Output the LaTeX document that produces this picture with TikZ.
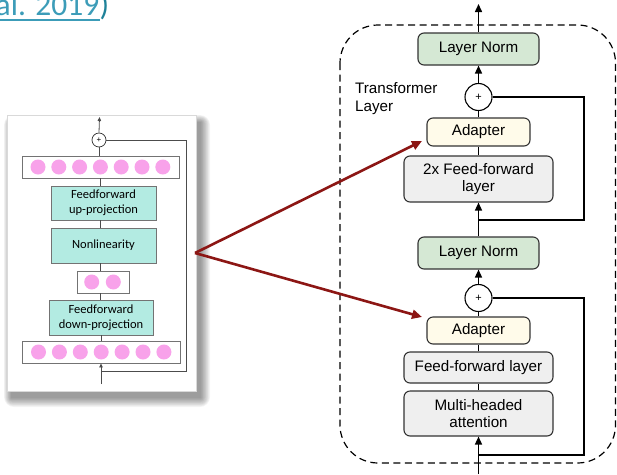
\documentclass[tikz,border=0pt]{standalone}
\usepackage{fontspec}
\setmainfont{Liberation Sans}
\newfontfamily\calib{Carlito}
\usetikzlibrary{arrows.meta}
\definecolor{lnfill}{HTML}{D5E8D4}
\definecolor{adfill}{HTML}{FFFBEA}
\definecolor{ffill}{HTML}{EFEFEF}
\definecolor{tealbox}{HTML}{B3EBE2}
\definecolor{dotpink}{HTML}{F8A2EA}
\definecolor{linkteal}{HTML}{3C9CB8}
\definecolor{linkdark}{HTML}{1F8299}
\definecolor{darkred}{HTML}{8C1614}
\tikzset{
  tbox/.style={draw=black!80, line width=1.1pt, rounded corners=6pt, align=center,
    font=\fontsize{15.2}{17.5}\selectfont, inner sep=0pt},
  lnbox/.style={tbox, fill=lnfill, minimum width=121pt, minimum height=32pt},
  adbox/.style={tbox, fill=adfill, minimum width=103pt, minimum height=28pt},
  ffbox/.style={tbox, fill=ffill, minimum width=149pt},
  tplus/.style={circle, draw=black, line width=1.1pt, fill=white, minimum size=27pt,
    inner sep=0pt, font=\fontsize{11}{11}\selectfont},
  tline/.style={line width=1.5pt, black},
  tarrow/.style={tline, -{Triangle[width=7pt,length=8pt]}},
  abox/.style={draw=black!55, line width=0.8pt, fill=tealbox, align=center,
    font=\calib\fontsize{12.5}{15}\selectfont, inner sep=0pt},
  dotrow/.style={draw=black!55, line width=0.8pt, fill=white, inner sep=0pt, minimum height=22pt},
  dot/.style={circle, fill=dotpink, minimum size=15pt, inner sep=0pt},
  aline/.style={line width=0.8pt, black!70},
  redarrow/.style={line width=2.6pt, darkred, -{Triangle[width=9pt,length=10pt]}},
}
\begin{document}
\begin{tikzpicture}[x=1pt,y=-1pt]
\useasboundingbox (0,0) rectangle (617,474);

% citation fragment at the top edge
\begin{scope}
\clip (0,0) rectangle (617,474);
\node[anchor=base west, inner sep=0pt, text=linkteal, font=\calib\fontsize{31.5}{36}\selectfont]
  (cite) at (-4.5,15) {al. 2019};
\node[anchor=base west, inner sep=0pt, text=linkdark, font=\calib\fontsize{31.5}{36}\selectfont]
  (paren) at (cite.base east) {)};
\draw[linkteal, line width=1.4pt] (cite.base west |- 0,20) -- (cite.base east |- 0,20);
\end{scope}

% ---------- adapter module (left) ----------
% soft shadow behind the panel
\foreach \i in {0,...,10}{
  \fill[black, opacity=0.045, rounded corners=\i pt]
    (11-\i*0.7,122-\i*0.7) rectangle (201+\i*0.9,398+\i*0.9);
}
\node[draw=black!15, line width=0.5pt, fill=white, inner sep=0pt, minimum width=189pt,
  minimum height=276pt] (panel) at (101.5,253) {};

\coordinate (spine) at (100.5,0);
\node[tplus, minimum size=14pt, line width=0.7pt, font=\fontsize{8}{8}\selectfont,
  draw=black!80] (aplus) at (99,140) {+};
\node[dotrow, minimum width=157pt] (toprow) at (100.5,167) {};
\foreach \k in {0,...,6}{
  \node[dot] (t\k) at (38+\k*20.8,167) {};
}
\node[abox, minimum width=105pt, minimum height=34pt] (up) at (103.5,203)
  {Feedforward\\up-projection};
\node[abox, minimum width=105pt, minimum height=35pt] (nonlin) at (103.5,245.5)
  {Nonlinearity};
\node[dotrow, minimum width=52pt] (midrow) at (103,282) {};
\node[dot] (m0) at (91.7,282) {};
\node[dot] (m1) at (113.3,282) {};
\node[abox, minimum width=104pt, minimum height=35pt] (down) at (101,317.5)
  {Feedforward\\down-projection};
\node[dotrow, minimum width=158pt] (botrow) at (101,352) {};
\foreach \k in {0,...,6}{
  \node[dot] (b\k) at (38.5+\k*20.9,352) {};
}
\coordinate (ain) at (101,384);
\coordinate (aout) at (99.5,117);
\coordinate (askip) at (101,371);

\draw[aline, -{Triangle[width=3.5pt,length=4pt]}] (aplus.north) -- (aout);
\draw[aline] (aplus.south) -- (toprow.north -| aplus.south);
\draw[aline] (toprow.south -| spine) -- (up.north -| spine);
\draw[aline] (up.south -| spine) -- (nonlin.north -| spine);
\draw[aline] (nonlin.south -| spine) -- (midrow.north -| spine);
\draw[aline] (midrow.south -| spine) -- (down.north -| spine);
\draw[aline] (down.south -| ain) -- (botrow.north -| ain);
\draw[aline, -{Triangle[width=3.5pt,length=4pt]}] (ain) -- (botrow.south -| ain);
\draw[aline] (aplus.east) -- (186.5,140) -- (186.5,371) -- (askip);

% ---------- transformer layer (right) ----------
\draw[line width=1.2pt, dash pattern=on 7pt off 4.5pt, rounded corners=38pt]
  (340,25) rectangle (615.5,463);
\node[anchor=base west, align=left, inner sep=0pt, font=\fontsize{15.2}{18}\selectfont]
  (tlabel) at (355,111) {Transformer\\Layer};

\node[lnbox] (ln1) at (478.5,49) {Layer Norm};
\node[tplus] (p1) at (478.5,97) {+};
\node[adbox] (ad1) at (478.5,132) {Adapter};
\node[ffbox, minimum height=46pt] (ff2) at (478.5,179) {2x Feed-forward\\layer};
\node[lnbox] (ln2) at (478.5,253) {Layer Norm};
\node[tplus] (p2) at (478.5,298) {+};
\node[adbox, minimum height=27pt] (ad2) at (478.5,330.5) {Adapter};
\node[ffbox, minimum height=31pt] (ff) at (478.5,367.5) {Feed-forward layer};
\node[ffbox, minimum height=45pt] (mha) at (478.5,413.5) {Multi-headed\\attention};

\coordinate (out) at (478.5,4);
\coordinate (in) at (478.5,474);
\coordinate (skip1) at (478.5,220);
\coordinate (skip2) at (478.5,455);

\draw[tarrow] (ln1.north) -- (out);
\draw[tarrow] (p1.north) -- (ln1.south);
\draw[tline] (ad1.north) -- (p1.south);
\draw[tline] (ff2.north) -- (ad1.south);
\draw[tarrow] (ln2.north) -- (ff2.south);
\draw[tline] (p1.east) -- (584,97) -- (584,220) -- (skip1);
\draw[tarrow] (p2.north) -- (ln2.south);
\draw[tline] (ad2.north) -- (p2.south);
\draw[tline] (ff.north) -- (ad2.south);
\draw[tline] (mha.north) -- (ff.south);
\draw[tarrow] (in) -- (mha.south);
\draw[tline] (p2.east) -- (584,298) -- (584,455) -- (skip2);

% ---------- pointers from the module to both adapters ----------
\coordinate (src) at (195,253);
\coordinate (tip1) at (422,141);
\coordinate (tip2) at (422,317);
\draw[redarrow] (src) -- (tip1);
\draw[redarrow] (src) -- (tip2);
\end{tikzpicture}
\end{document}
